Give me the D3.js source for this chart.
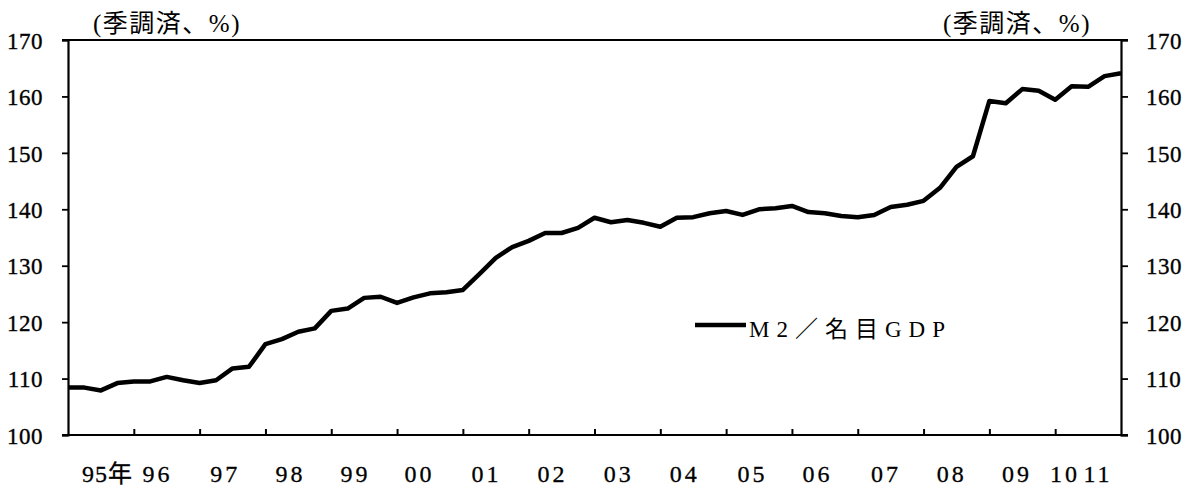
<!DOCTYPE html>
<html><head><meta charset="utf-8">
<script src="https://cdn.jsdelivr.net/npm/d3@7"></script>
<style>
html,body{margin:0;padding:0;background:#fff;}
svg{display:block;}
text{fill:#000;}
</style></head>
<body>
<svg id="c" width="1194" height="490"></svg>
<script>
// Quarterly M2 / nominal GDP ratio, 1995Q1 .. 2011Q1 (seasonally adjusted, %)
const startYear = 1995;
const ratio = [
  108.4,108.4,107.9,109.2,109.5,109.5,110.3,109.7,109.2,109.7,
  111.8,112.1,116.1,117.0,118.3,118.9,122.0,122.4,124.3,124.5,
  123.4,124.4,125.1,125.3,125.7,128.5,131.4,133.3,134.4,135.8,
  135.8,136.7,138.5,137.7,138.1,137.6,136.9,138.5,138.6,139.3,
  139.7,139.0,140.0,140.2,140.6,139.5,139.3,138.8,138.6,139.0,
  140.4,140.8,141.5,143.8,147.5,149.4,159.2,158.8,161.3,161.0,
  159.4,161.8,161.7,163.6,164.1
];
const yTicks = [100,110,120,130,140,150,160,170];
const xTickYears = [1996,1997,1998,1999,2000,2001,2002,2003,2004,2005,2006,2007,2008,2009,2010];
const xLabels = ["95年","96","97","98","99","00","01","02","03","04","05","06","07","08","09","10","11"];
const xLabelPos = [1995.60,1996.36,1997.39,1998.38,1999.37,2000.34,2001.36,2002.36,2003.37,2004.37,2005.40,2006.39,2007.43,2008.43,2009.42,2010.15,2010.65];
const unitLabel = "(季調済、%)";
const seriesName = "M2／名目GDP";

const svg = d3.select("#c");
const L = 68, R = 1121, T = 40, B = 435;
const x = d3.scaleLinear().domain([1995, 2011]).range([L, R]);
const y = d3.scaleLinear().domain([100, 170]).range([B, T]);
const serif = "'Liberation Serif','Noto Sans CJK JP',serif";

// frame lines (top & bottom extend to tick length)
svg.append("line").attr("x1", L-6).attr("x2", R+7).attr("y1", T).attr("y2", T)
  .attr("stroke","#000").attr("stroke-width",2);
svg.append("line").attr("x1", L-6).attr("x2", R+7).attr("y1", B).attr("y2", B)
  .attr("stroke","#000").attr("stroke-width",2);

// left axis
const yl = svg.append("g").attr("transform",`translate(${L},0)`)
  .call(d3.axisLeft(y).tickValues(yTicks).tickSize(6).tickFormat(d3.format("d")));
yl.select(".domain").attr("stroke-width",2.2);
yl.selectAll(".tick line").attr("stroke-width",1.8);
yl.selectAll("text").attr("font-family",serif).attr("font-size",23).attr("letter-spacing",0.5)
  .attr("stroke","#000").attr("stroke-width",0.35)
  .attr("x",-25).attr("dy","0.36em");

// right axis
const yr = svg.append("g").attr("transform",`translate(${R},0)`)
  .call(d3.axisRight(y).tickValues(yTicks).tickSize(7).tickFormat(d3.format("d")));
yr.select(".domain").attr("stroke-width",2.2);
yr.selectAll(".tick line").attr("stroke-width",1.8);
yr.selectAll("text").attr("font-family",serif).attr("font-size",23).attr("letter-spacing",0.5)
  .attr("stroke","#000").attr("stroke-width",0.35)
  .attr("x",25).attr("dy","0.36em");

// bottom ticks (inward)
const xb = svg.append("g").attr("transform",`translate(0,${B})`)
  .call(d3.axisBottom(x).tickValues(xTickYears).tickSize(-6).tickFormat(""));
xb.select(".domain").remove();
xb.selectAll(".tick line").attr("stroke-width",2);

// x labels
svg.append("g").selectAll("text").data(xLabels).join("text")
  .attr("x",(d,i)=>x(xLabelPos[i])).attr("y",482)
  .attr("text-anchor","middle").attr("font-family",serif).attr("font-size",24)
  .attr("stroke","#000").attr("stroke-width",0.3)
  .attr("letter-spacing",(d,i)=> i===0 ? 1 : 3).text(d=>d);

// unit labels
svg.append("text").attr("x",93).attr("y",32).attr("font-family",serif)
  .attr("font-size",25).attr("letter-spacing",1.5).text(unitLabel);
svg.append("text").attr("x",943).attr("y",32).attr("font-family",serif)
  .attr("font-size",25).attr("letter-spacing",1.5).text(unitLabel);

// series line
const line = d3.line().x((d,i)=>x(startYear + i/4)).y(d=>y(d));
svg.append("path").datum(ratio).attr("d",line).attr("fill","none")
  .attr("stroke","#000").attr("stroke-width",4.5).attr("stroke-linejoin","round");

// legend
svg.append("line").attr("x1",695).attr("x2",746).attr("y1",325).attr("y2",325)
  .attr("stroke","#000").attr("stroke-width",4.5);
svg.append("text").attr("x",749).attr("y",337).attr("font-family",serif)
  .attr("font-size",23).attr("letter-spacing",7).text(seriesName);
</script>
</body></html>
